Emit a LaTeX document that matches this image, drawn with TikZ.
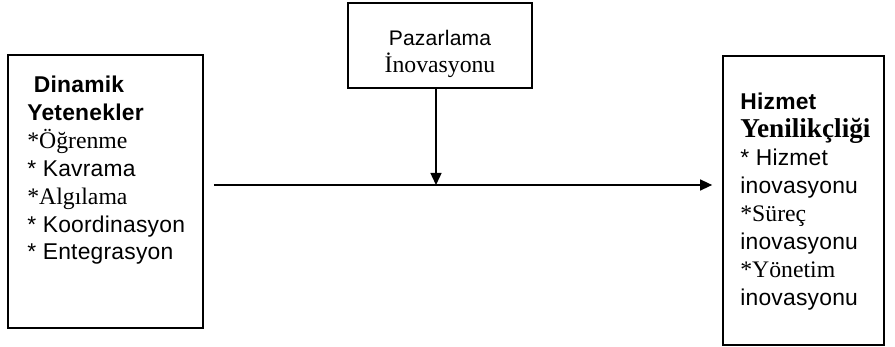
\documentclass[tikz,border=0pt]{standalone}
\usepackage{fontspec}
\setmainfont{Liberation Serif}
\newfontfamily\arialfont[LetterSpace=1]{Liberation Sans}
\usetikzlibrary{positioning, arrows.meta}

\newcommand{\sans}{\arialfont\fontsize{13}{15.9}\selectfont}
\newcommand{\serif}{\rmfamily\fontsize{13.5}{15.9}\selectfont}
\newcommand{\bserif}{\rmfamily\bfseries\fontsize{15.5}{15.9}\selectfont}

\begin{document}
\begin{tikzpicture}[
    x=0.02cm, y=-0.02cm,
    box/.style={rectangle, draw, line width=1pt, inner sep=0pt},
    label/.style={inner sep=0pt, align=left, font=\sans},
    arrow/.style={-{Triangle[length=0.24cm, width=0.22cm]}, line width=0.8pt}
]
\useasboundingbox (0,0) rectangle (895,347);

% --- Boxes ---
\node[box, minimum width=3.9cm, minimum height=5.46cm] (dyn) at (105.5,191.5) {};
\node[box, minimum width=3.22cm, minimum height=5.78cm] (hiz) at (803.5,200.5) {};
\node[box, minimum width=3.68cm, minimum height=1.7cm] (paz) at (440,45.5) {};

% --- Texts (placed by the baseline of their last line) ---
\node[label, anchor=base west] (dyntext) at (27,260)
    {\textbf{\ Dinamik}\\ \textbf{Yetenekler}\\ {\serif *Öğrenme}\\ * Kavrama\\
     {\serif *Algılama}\\ * Koordinasyon\\ * Entegrasyon};
\node[label, anchor=base west] (hiztext) at (740,305)
    {\textbf{Hizmet}\\ {\bserif Yenilikçliği}\\ * Hizmet\\ inovasyonu\\
     {\serif *Süreç}\\ inovasyonu\\ {\serif *Yönetim}\\ inovasyonu};
\node[label, align=center, anchor=base] (paztext) at (440,73)
    {\fontsize{12}{15.9}\selectfont Pazarlama\\ {\serif İnovasyonu}};

% --- Arrows ---
\coordinate (meet) at (436,185);
\draw[arrow, shorten <=0.2cm, shorten >=0.2cm] (dyn.east |- meet) -- (hiz.west |- meet);
\draw[arrow] (paz.south -| meet) -- (meet);

\end{tikzpicture}
\end{document}
